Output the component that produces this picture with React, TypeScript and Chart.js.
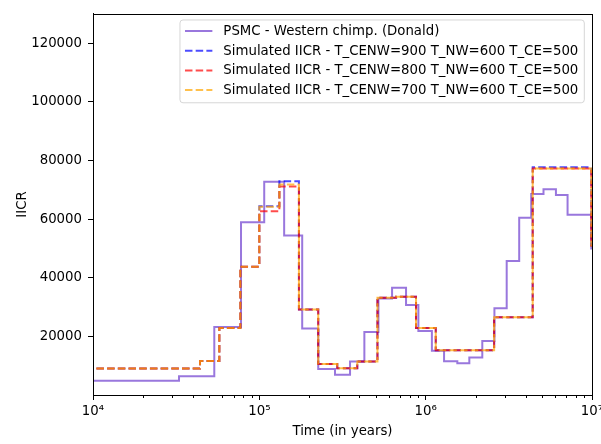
import { useEffect, useRef } from 'react';
import { Chart, registerables } from 'chart.js';

Chart.register(...registerables);

// PSMC curve (time in years, IICR)
const psmcTime = [
  5000, 32900, 53600, 77600, 107000, 141000, 181000, 226000, 285000, 351000,
  428000, 520000, 628000, 762000, 904000, 1090000, 1290000, 1550000, 1830000,
  2190000, 2590000, 3070000, 3650000, 4310000, 5110000, 6070000, 7130000,
  9900000, 15000000,
];
const psmcIICR = [
  4900, 6400, 23200, 58900, 72800, 54400, 22700, 8900, 6950, 11400,
  21500, 32900, 36600, 30700, 21800, 15100, 11500, 10800, 12800,
  18400, 29600, 45700, 60500, 68600, 70200, 68200, 61500,
  50000, 50000,
];

// simulated IICR curves share the same time steps
const simTime = [
  5000, 44000, 57500, 76900, 100000, 132000, 173000, 226000, 294000, 388000,
  513000, 664000, 875000, 1150000, 2580000, 4400000, 9900000, 15000000,
];
const iicrCENW900 = [
  9000, 11600, 22900, 43800, 64400, 72900, 29200, 10600, 9150, 11400,
  33200, 33500, 22900, 15300, 26500, 77700, 51000, 51000,
];
const iicrCENW800 = [
  9000, 11600, 22900, 43800, 62700, 71100, 29200, 10600, 9150, 11400,
  33200, 33500, 22900, 15300, 26500, 77300, 51000, 51000,
];
const iicrCENW700 = [
  9000, 11600, 22900, 43800, 64200, 71800, 29200, 10600, 9150, 11400,
  33200, 33500, 22900, 15300, 26500, 77300, 51000, 51000,
];

const seriesLabels = [
  'PSMC - Western chimp. (Donald)',
  'Simulated IICR - T_CENW=900 T_NW=600 T_CE=500',
  'Simulated IICR - T_CENW=800 T_NW=600 T_CE=500',
  'Simulated IICR - T_CENW=700 T_NW=600 T_CE=500',
];

const xMajorTicks = [1e4, 1e5, 1e6, 1e7];
const xTickLabels = ['10⁴', '10⁵', '10⁶', '10⁷'];
const yTicks = [20000, 40000, 60000, 80000, 100000, 120000];

const FS = 13.3;
const FAMILY = "'DejaVu Sans', sans-serif";
const FONT = { family: FAMILY, size: FS };
const DASH = [7.5, 3.2];

const pts = (xs: number[], ys: number[]) => xs.map((x, i) => ({ x, y: ys[i] }));

// minor log ticks + full axes frame
const frameAndMinor = {
  id: 'frameAndMinor',
  afterDraw(chart: any) {
    const { ctx, chartArea } = chart;
    const xs = chart.scales.x;
    ctx.save();
    ctx.strokeStyle = '#000';
    ctx.lineWidth = 1;
    for (let k = 0; k < xMajorTicks.length - 1; k++) {
      for (let m = 2; m <= 9; m++) {
        const px = Math.round(xs.getPixelForValue(xMajorTicks[k] * m)) + 0.5;
        ctx.beginPath();
        ctx.moveTo(px, chartArea.bottom);
        ctx.lineTo(px, chartArea.bottom + 3);
        ctx.stroke();
      }
    }
    ctx.strokeRect(
      Math.round(chartArea.left) + 0.5, Math.round(chartArea.top) + 0.5,
      Math.round(chartArea.right - chartArea.left), Math.round(chartArea.bottom - chartArea.top),
    );
    ctx.restore();
  },
};

// matplotlib-like legend box in the upper right
const legendBox = {
  id: 'legendBox',
  afterDraw(chart: any) {
    const { ctx, chartArea } = chart;
    const sets = chart.data.datasets;
    ctx.save();
    ctx.font = `${FS}px ${FAMILY}`;
    const maxW = Math.max(...sets.map((d: any) => ctx.measureText(d.label).width));
    const rowH = 19.7;
    const right = chartArea.right - 7.7;
    const top = chartArea.top + 6;
    const left = right - (43.4 + maxW + 6);
    const h = 11 + rowH * (sets.length - 1) + 12.7;

    ctx.beginPath();
    ctx.roundRect(left, top, right - left, h, 3);
    ctx.fillStyle = 'rgba(255,255,255,0.8)';
    ctx.fill();
    ctx.strokeStyle = 'rgba(204,204,204,0.8)';
    ctx.lineWidth = 1;
    ctx.stroke();

    sets.forEach((d: any, i: number) => {
      const cy = top + 11 + i * rowH;
      ctx.beginPath();
      ctx.setLineDash(d.borderDash || []);
      ctx.strokeStyle = d.borderColor;
      ctx.lineWidth = d.borderWidth;
      ctx.moveTo(left + 5, cy);
      ctx.lineTo(left + 32.4, cy);
      ctx.stroke();
      ctx.setLineDash([]);
      ctx.fillStyle = '#000';
      ctx.textBaseline = 'middle';
      ctx.fillText(d.label, left + 43.4, cy + 0.5);
    });
    ctx.restore();
  },
};

export default function App() {
  const canvasRef = useRef<HTMLCanvasElement>(null);
  const chartRef = useRef<Chart | null>(null);

  useEffect(() => {
    if (!canvasRef.current) return;
    const existing = Chart.getChart(canvasRef.current);
    if (existing) existing.destroy();

    chartRef.current = new Chart(canvasRef.current, {
      type: 'line',
      data: {
        datasets: [
          {
            label: seriesLabels[0],
            data: pts(psmcTime, psmcIICR),
            borderColor: 'rgba(147,112,219,0.95)',
            borderWidth: 2,
            stepped: true,
            pointRadius: 0,
            order: 3,
          },
          {
            label: seriesLabels[1],
            data: pts(simTime, iicrCENW900),
            borderColor: 'rgba(0,0,255,0.7)',
            borderWidth: 2,
            borderDash: DASH,
            stepped: true,
            pointRadius: 0,
            order: 2,
          },
          {
            label: seriesLabels[2],
            data: pts(simTime, iicrCENW800),
            borderColor: 'rgba(255,0,0,0.7)',
            borderWidth: 2,
            borderDash: DASH,
            stepped: true,
            pointRadius: 0,
            order: 1,
          },
          {
            label: seriesLabels[3],
            data: pts(simTime, iicrCENW700),
            borderColor: 'rgba(255,165,0,0.7)',
            borderWidth: 2,
            borderDash: DASH,
            stepped: true,
            pointRadius: 0,
            order: 0,
          },
        ],
      },
      options: {
        responsive: false,
        animation: false,
        events: [],
        layout: { padding: { top: 8, right: 9, left: 0, bottom: 0 } },
        plugins: { legend: { display: false }, tooltip: { enabled: false } },
        scales: {
          x: {
            type: 'logarithmic',
            min: 1e4,
            max: 1e7,
            afterBuildTicks: (s: any) => { s.ticks = xMajorTicks.map(v => ({ value: v, major: true })); },
            afterFit: (s: any) => { s.height = 49; s.paddingLeft = 0; s.paddingRight = 0; },
            ticks: {
              color: '#000',
              font: FONT,
              autoSkip: false,
              maxRotation: 0,
              padding: 4,
              callback: (_v: any, i: number) => xTickLabels[i],
            },
            grid: { display: true, drawOnChartArea: false, drawTicks: true, tickLength: 5, color: '#000', lineWidth: 1 },
            border: { display: true, color: '#000', width: 1 },
            title: { display: true, text: 'Time (in years)', color: '#000', font: FONT, padding: { top: 0, bottom: 4 } },
          },
          y: {
            type: 'linear',
            min: 0,
            max: 130000,
            afterBuildTicks: (s: any) => { s.ticks = yTicks.map(v => ({ value: v })); },
            afterFit: (s: any) => { s.width = 93; },
            ticks: {
              color: '#000',
              font: FONT,
              padding: 6,
              autoSkip: false,
              callback: (v: any) => String(v),
            },
            grid: { display: true, drawOnChartArea: false, drawTicks: true, tickLength: 5, color: '#000', lineWidth: 1 },
            border: { display: true, color: '#000', width: 1 },
            title: { display: true, text: 'IICR', color: '#000', font: FONT, padding: { top: 15, bottom: 0 } },
          },
        },
      },
      plugins: [frameAndMinor, legendBox],
    } as any);

    return () => { chartRef.current?.destroy(); chartRef.current = null; };
  }, []);

  return (
    <div style={{ position: 'absolute', left: 0, top: 0, width: 601, height: 444, background: '#fff' }}>
      <canvas ref={canvasRef} width={601} height={444} />
    </div>
  );
}
